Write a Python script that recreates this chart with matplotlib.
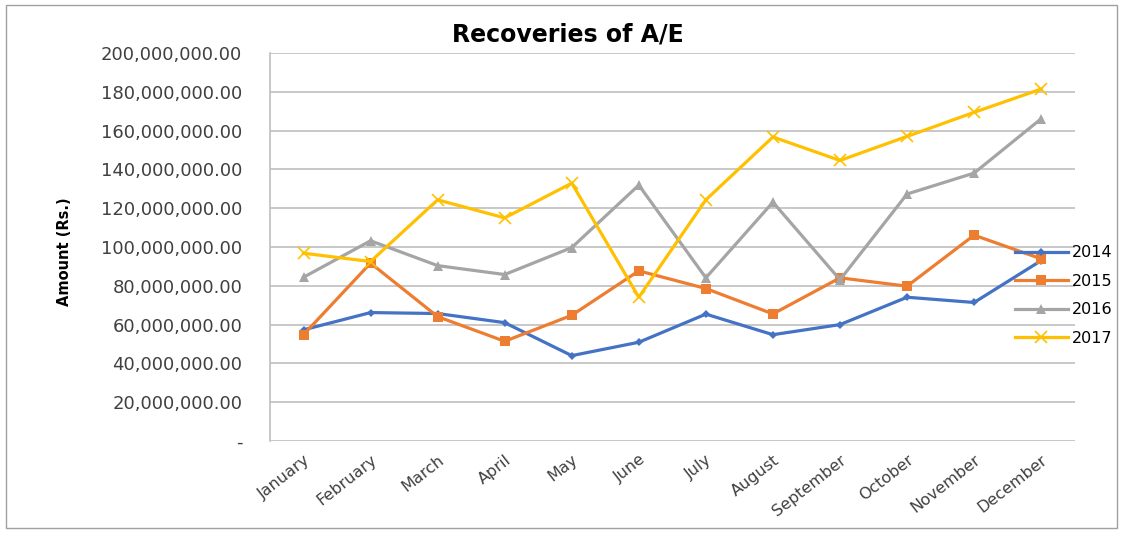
import numpy as np
import matplotlib.pyplot as plt
from matplotlib.ticker import FuncFormatter, MultipleLocator

# chart data
months = ["January", "February", "March", "April", "May", "June", "July",
          "August", "September", "October", "November", "December"]
years = ["2014", "2015", "2016", "2017"]
rec_2014 = [57.3, 66.2, 65.7, 61.0, 44.0, 50.9, 65.4, 54.8, 60.0, 74.1, 71.4, 93.0]
rec_2015 = [54.8, 91.7, 64.1, 51.4, 64.8, 87.7, 78.6, 65.5, 84.1, 79.8, 106.1, 93.9]
rec_2016 = [84.4, 103.2, 90.4, 85.8, 99.7, 131.9, 84.1, 123.1, 83.1, 127.3, 138.1, 166.1]
rec_2017 = [96.8, 92.5, 124.3, 115.0, 132.9, 74.1, 124.3, 156.7, 144.6, 157.0, 169.4, 181.4]

series = [rec_2014, rec_2015, rec_2016, rec_2017]
colors = ["#4472C4", "#ED7D31", "#A5A5A5", "#FFC000"]
markers = ["D", "s", "^", "x"]
msizes = [4.5, 7, 7, 8]

plt.rcParams['font.family'] = ['DejaVu Sans']

fig = plt.figure(figsize=(11.23, 5.33), dpi=100)
ax = fig.add_axes([0.2404, 0.1726, 0.7166, 0.728])

x = np.arange(len(months))
handles = []
for vals, c, m, ms, yr in zip(series, colors, markers, msizes, years):
    h, = ax.plot(x, np.array(vals) * 1e6, color=c, lw=2.3, marker=m, ms=ms,
                 mew=1.2 if m == "x" else 0, mec=c, label=yr)
    handles.append(h)

ax.set_xlim(-0.5, len(months) - 0.5)
ax.set_ylim(0, 200e6)
ax.yaxis.set_major_locator(MultipleLocator(20e6))
ax.yaxis.set_major_formatter(FuncFormatter(lambda v, p: "-" if v == 0 else f"{v:,.2f}"))
ax.grid(axis="y", color="#BFBFBF", lw=1.2)
ax.set_axisbelow(True)
for s in ["top", "right", "bottom"]:
    ax.spines[s].set_visible(False)
ax.spines["left"].set_color("#BFBFBF")
ax.spines["left"].set_linewidth(1.2)
ax.tick_params(length=0, labelsize=13, colors="#404040", pad=20)
ax.tick_params(axis="x", pad=8)
ax.set_xticks(x)
ax.set_xticklabels(months, rotation=38, ha="right", rotation_mode="anchor", fontsize=11.5)

ax.set_ylabel("Amount (Rs.)", fontsize=10.5, color="black", fontweight="bold")
ax.yaxis.set_label_coords(-0.246, 0.487)
fig.text(0.506, 0.935, "Recoveries of A/E", ha="center", va="center",
         fontsize=17, fontweight="bold")

fig.legend(handles=handles, loc="upper left", bbox_to_anchor=(0.898, 0.552),
           frameon=False, fontsize=11.5, handlelength=3.3, labelspacing=0.85,
           handletextpad=0.3, borderaxespad=0)

# outer border like the source chart
fig.patches.append(plt.Rectangle((0.005, 0.01), 0.99, 0.98, transform=fig.transFigure,
                                 fill=False, edgecolor="#A0A0A0", lw=1))

fig.savefig("out.png", dpi=100)
